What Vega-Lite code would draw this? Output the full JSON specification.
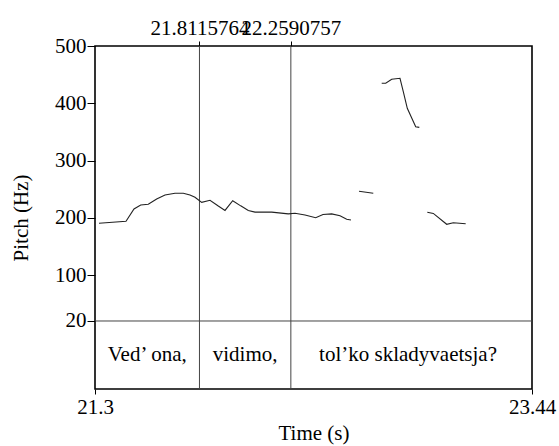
{
  "$schema": "https://vega.github.io/schema/vega-lite/v6.json",
  "width": 437,
  "height": 343,
  "autosize": {"type": "none"},
  "padding": {"left": 95, "top": 46, "right": 27, "bottom": 57},
  "background": "white",
  "config": {
    "font": "Liberation Serif",
    "view": {"stroke": "black", "strokeWidth": 1.6},
    "axis": {
      "labelFont": "Liberation Serif",
      "titleFont": "Liberation Serif",
      "labelFontSize": 21,
      "titleFontSize": 21,
      "titleFontWeight": "normal",
      "labelColor": "black",
      "titleColor": "black",
      "tickColor": "black",
      "grid": false,
      "domain": false,
      "labelOverlap": false,
      "labelFlush": false,
      "labelBound": false
    }
  },
  "datasets": {
    "pitch": [
      {"t": 21.3196, "hz": 190.5, "seg": 1},
      {"t": 21.4518, "hz": 194, "seg": 1},
      {"t": 21.491, "hz": 215.5, "seg": 1},
      {"t": 21.5238, "hz": 222.5, "seg": 1},
      {"t": 21.561, "hz": 223.7, "seg": 1},
      {"t": 21.602, "hz": 233, "seg": 1},
      {"t": 21.6428, "hz": 240, "seg": 1},
      {"t": 21.6918, "hz": 243, "seg": 1},
      {"t": 21.7324, "hz": 243, "seg": 1},
      {"t": 21.7652, "hz": 240, "seg": 1},
      {"t": 21.7897, "hz": 236, "seg": 1},
      {"t": 21.8225, "hz": 227, "seg": 1},
      {"t": 21.8632, "hz": 230.7, "seg": 1},
      {"t": 21.9038, "hz": 220.7, "seg": 1},
      {"t": 21.9366, "hz": 213, "seg": 1},
      {"t": 21.9744, "hz": 230, "seg": 1},
      {"t": 22.0135, "hz": 221, "seg": 1},
      {"t": 22.0507, "hz": 213, "seg": 1},
      {"t": 22.0835, "hz": 210, "seg": 1},
      {"t": 22.1653, "hz": 210, "seg": 1},
      {"t": 22.2466, "hz": 207, "seg": 1},
      {"t": 22.2794, "hz": 208, "seg": 1},
      {"t": 22.3284, "hz": 205, "seg": 1},
      {"t": 22.3808, "hz": 200.3, "seg": 1},
      {"t": 22.4165, "hz": 206, "seg": 1},
      {"t": 22.4591, "hz": 207, "seg": 1},
      {"t": 22.4998, "hz": 203.8, "seg": 1},
      {"t": 22.5326, "hz": 197.5, "seg": 1},
      {"t": 22.5536, "hz": 196.3, "seg": 1},
      {"t": 22.5928, "hz": 246.4, "seg": 2},
      {"t": 22.6628, "hz": 243, "seg": 2},
      {"t": 22.704, "hz": 434.9, "seg": 3},
      {"t": 22.7236, "hz": 434.9, "seg": 3},
      {"t": 22.7529, "hz": 441.9, "seg": 3},
      {"t": 22.7936, "hz": 443.6, "seg": 3},
      {"t": 22.8097, "hz": 420.2, "seg": 3},
      {"t": 22.8293, "hz": 391.3, "seg": 3},
      {"t": 22.8705, "hz": 359.1, "seg": 3},
      {"t": 22.8881, "hz": 358, "seg": 3},
      {"t": 22.9273, "hz": 209.7, "seg": 4},
      {"t": 22.9567, "hz": 207.8, "seg": 4},
      {"t": 23.0223, "hz": 188.8, "seg": 4},
      {"t": 23.0546, "hz": 191.6, "seg": 4},
      {"t": 23.1153, "hz": 189.8, "seg": 4}
    ],
    "bounds": [
      {"t": 21.8115764},
      {"t": 22.2590757}
    ],
    "words": [
      {"t": 21.5558, "y": -40, "label": "Ved’ ona,"},
      {"t": 22.0353, "y": -40, "label": "vidimo,"},
      {"t": 22.833, "y": -40, "label": "tol’ko skladyvaetsja?"}
    ],
    "tier": [{"y": 20}]
  },
  "layer": [
    {
      "data": {"name": "tier"},
      "mark": {"type": "rule", "color": "#444", "strokeWidth": 1},
      "encoding": {
        "y": {"field": "y", "type": "quantitative",
          "scale": {"domain": [-98.7, 500], "nice": false, "zero": false},
          "axis": {"values": [20, 100, 200, 300, 400, 500], "tickSize": 8, "labelPadding": 1,
            "title": "Pitch (Hz)", "titlePadding": 23}}
      }
    },
    {
      "data": {"name": "bounds"},
      "mark": {"type": "rule", "color": "#444", "strokeWidth": 1},
      "encoding": {
        "x": {"field": "t", "type": "quantitative",
          "scale": {"domain": [21.3, 23.44], "nice": false, "zero": false},
          "axis": {"orient": "top", "values": [21.8115764, 22.2590757], "format": ".7f",
            "tickSize": 5, "labelPadding": 3, "title": null}}
      }
    },
    {
      "data": {"name": "pitch"},
      "mark": {"type": "line", "color": "#222", "strokeWidth": 1.1},
      "encoding": {
        "x": {"field": "t", "type": "quantitative",
          "axis": {"orient": "bottom", "values": [21.3, 23.44], "format": ".4~g",
            "tickSize": 5, "labelPadding": 2, "title": "Time (s)", "titlePadding": 5}},
        "y": {"field": "hz", "type": "quantitative",
          "axis": {"values": [20, 100, 200, 300, 400, 500], "tickSize": 8, "labelPadding": 1,
            "title": "Pitch (Hz)", "titlePadding": 23}},
        "detail": {"field": "seg", "type": "nominal"}
      }
    },
    {
      "data": {"name": "words"},
      "mark": {"type": "text", "font": "Liberation Serif", "fontSize": 21, "color": "black", "baseline": "middle", "align": "center"},
      "encoding": {
        "x": {"field": "t", "type": "quantitative", "axis": null},
        "y": {"field": "y", "type": "quantitative"},
        "text": {"field": "label"}
      }
    }
  ],
  "resolve": {"axis": {"x": "independent"}}
}
